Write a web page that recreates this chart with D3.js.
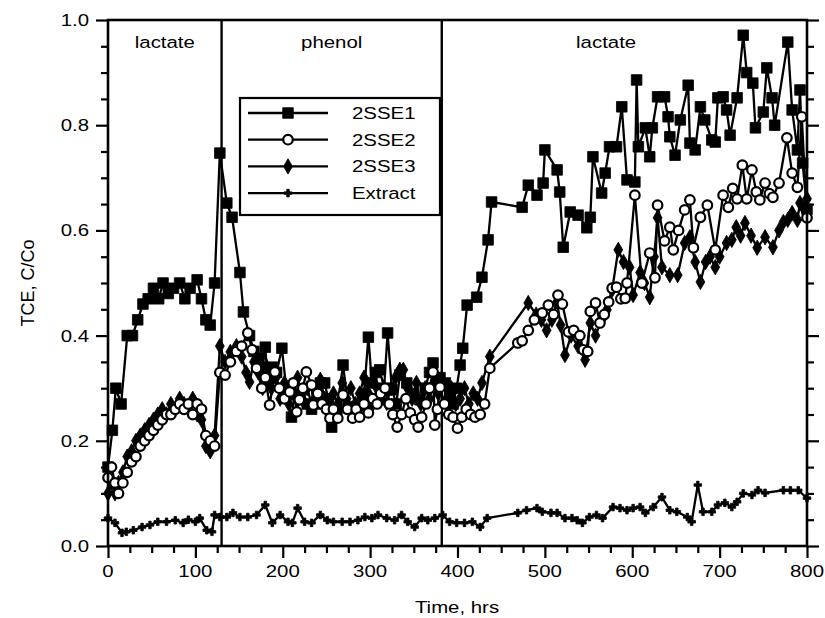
<!DOCTYPE html>
<html>
<head>
<meta charset="utf-8">
<script src="https://cdn.jsdelivr.net/npm/d3@7"></script>
<style>
  html, body { margin: 0; padding: 0; background: #fff; }
  svg { display: block; }
  text { font-family: "Liberation Sans", Arial, Helvetica, sans-serif; fill: #000; }
</style>
</head>
<body>
<svg id="chart" width="825" height="618"></svg>
<script>
// TCE breakthrough (C/Co) over time for three columns and the extract
const sse1 = [[0,0.15],[5,0.22],[9,0.30],[15,0.27],[22,0.40],[28,0.40],[34,0.43],[40,0.46],[46,0.47],[52,0.49],[58,0.47],[63,0.50],[69,0.48],[75,0.49],[82,0.50],[88,0.47],[94,0.49],[102,0.506],[107,0.47],[112,0.43],[117,0.42],[122,0.50],[128,0.747],[136,0.652],[142,0.625],[151,0.52],[155,0.445],[162,0.40],[167,0.37],[172,0.357],[177,0.34],[180,0.378],[183,0.31],[188,0.34],[193,0.33],[199,0.376],[204,0.30],[210,0.245],[214,0.29],[220,0.28],[228,0.27],[233,0.26],[238,0.27],[243,0.31],[248,0.31],[252,0.28],[256,0.226],[262,0.26],[269,0.344],[275,0.265],[282,0.26],[288,0.268],[293,0.29],[298,0.397],[302,0.31],[306,0.33],[311,0.335],[316,0.30],[320,0.405],[325,0.297],[330,0.27],[334,0.325],[342,0.31],[349,0.29],[357,0.278],[363,0.30],[368,0.33],[372,0.348],[376,0.32],[380,0.32],[386,0.31],[391,0.29],[395,0.27],[399,0.30],[403,0.344],[406,0.376],[411,0.458],[422,0.473],[428,0.511],[435,0.582],[439,0.654],[474,0.644],[481,0.686],[491,0.667],[498,0.69],[500,0.753],[514,0.715],[517,0.673],[521,0.568],[529,0.635],[538,0.629],[548,0.605],[552,0.625],[555,0.74],[565,0.671],[569,0.709],[574,0.759],[582,0.759],[588,0.835],[594,0.696],[603,0.692],[605,0.886],[607,0.759],[615,0.795],[620,0.74],[623,0.795],[629,0.854],[637,0.854],[641,0.816],[643,0.778],[649,0.743],[655,0.81],[664,0.876],[666,0.766],[672,0.753],[678,0.835],[683,0.81],[691,0.772],[695,0.768],[698,0.852],[704,0.854],[708,0.829],[712,0.781],[720,0.852],[727,0.971],[731,0.90],[738,0.88],[741,0.795],[750,0.825],[754,0.909],[760,0.852],[763,0.80],[778,0.958],[783,0.829],[789,0.753],[792,0.867],[795,0.728],[800,0.64]];

const sse2 = [[0,0.13],[4,0.15],[8,0.12],[12,0.10],[17,0.12],[22,0.14],[27,0.16],[32,0.17],[37,0.19],[42,0.20],[47,0.21],[52,0.22],[57,0.23],[62,0.24],[67,0.25],[72,0.25],[77,0.26],[82,0.27],[87,0.26],[92,0.27],[97,0.25],[102,0.27],[107,0.26],[112,0.21],[117,0.20],[122,0.19],[128,0.33],[134,0.325],[140,0.35],[147,0.37],[153,0.38],[160,0.405],[165,0.373],[170,0.338],[176,0.30],[180,0.32],[185,0.268],[191,0.331],[196,0.30],[202,0.28],[208,0.293],[212,0.31],[216,0.255],[219,0.278],[223,0.30],[227,0.331],[233,0.306],[235,0.268],[240,0.29],[245,0.27],[250,0.26],[254,0.243],[258,0.26],[263,0.243],[269,0.287],[274,0.26],[280,0.243],[284,0.26],[288,0.245],[293,0.27],[298,0.253],[303,0.28],[308,0.27],[312,0.29],[317,0.30],[322,0.27],[326,0.25],[331,0.226],[336,0.25],[341,0.28],[346,0.253],[351,0.24],[355,0.226],[359,0.245],[364,0.27],[368,0.30],[372,0.331],[374,0.23],[377,0.26],[380,0.302],[385,0.27],[390,0.25],[395,0.245],[400,0.224],[405,0.245],[410,0.26],[415,0.25],[420,0.245],[426,0.25],[431,0.27],[437,0.338],[469,0.386],[474,0.39],[481,0.41],[488,0.43],[497,0.443],[504,0.458],[510,0.44],[515,0.477],[520,0.46],[527,0.407],[533,0.41],[540,0.40],[544,0.373],[549,0.37],[552,0.446],[558,0.462],[563,0.424],[568,0.44],[573,0.464],[577,0.49],[582,0.492],[587,0.47],[592,0.471],[594,0.50],[603,0.667],[611,0.50],[620,0.557],[626,0.51],[629,0.648],[637,0.58],[643,0.606],[647,0.563],[653,0.60],[660,0.639],[666,0.658],[670,0.567],[678,0.625],[686,0.648],[695,0.563],[704,0.667],[710,0.644],[715,0.68],[720,0.66],[726,0.724],[731,0.66],[737,0.715],[742,0.673],[746,0.658],[752,0.69],[757,0.67],[761,0.663],[768,0.69],[777,0.776],[783,0.709],[789,0.682],[794,0.816],[800,0.624]];

const sse3 = [[0,0.10],[4,0.12],[8,0.10],[12,0.12],[17,0.14],[22,0.17],[27,0.18],[32,0.20],[37,0.21],[42,0.22],[47,0.23],[52,0.24],[57,0.25],[62,0.26],[67,0.25],[72,0.27],[77,0.26],[82,0.28],[87,0.27],[92,0.26],[97,0.28],[102,0.25],[107,0.24],[112,0.19],[117,0.18],[122,0.21],[128,0.38],[134,0.35],[140,0.369],[147,0.38],[153,0.36],[158,0.33],[162,0.312],[167,0.35],[172,0.33],[177,0.30],[182,0.34],[187,0.30],[192,0.32],[197,0.28],[202,0.31],[207,0.27],[212,0.29],[217,0.32],[222,0.28],[228,0.30],[233,0.27],[238,0.29],[243,0.316],[248,0.28],[253,0.26],[258,0.29],[263,0.27],[268,0.31],[273,0.28],[278,0.30],[283,0.27],[288,0.29],[293,0.32],[298,0.29],[303,0.27],[308,0.30],[313,0.28],[319,0.272],[324,0.30],[329,0.32],[334,0.335],[338,0.335],[343,0.30],[348,0.28],[353,0.31],[358,0.27],[363,0.30],[368,0.28],[373,0.31],[378,0.29],[383,0.31],[388,0.28],[393,0.30],[398,0.27],[403,0.28],[408,0.30],[413,0.27],[418,0.29],[423,0.28],[428,0.31],[437,0.36],[481,0.462],[490,0.44],[496,0.43],[502,0.41],[508,0.43],[514,0.464],[518,0.42],[523,0.363],[530,0.40],[538,0.38],[546,0.354],[552,0.424],[558,0.40],[565,0.43],[571,0.449],[577,0.487],[584,0.563],[590,0.54],[597,0.53],[601,0.477],[609,0.52],[614,0.50],[620,0.473],[625,0.55],[629,0.624],[634,0.53],[643,0.515],[652,0.515],[660,0.576],[666,0.587],[672,0.54],[678,0.502],[684,0.54],[689,0.55],[695,0.53],[700,0.55],[708,0.576],[714,0.582],[719,0.606],[724,0.59],[729,0.614],[736,0.59],[743,0.567],[752,0.587],[761,0.568],[768,0.60],[773,0.616],[778,0.62],[783,0.633],[789,0.62],[792,0.652],[797,0.64],[800,0.66]];

const extract = [[0,0.053],[8,0.044],[16,0.025],[21,0.027],[29,0.030],[39,0.036],[48,0.040],[57,0.046],[67,0.046],[77,0.049],[86,0.044],[92,0.050],[100,0.046],[105,0.053],[113,0.030],[119,0.027],[122,0.059],[128,0.055],[136,0.055],[143,0.063],[151,0.055],[160,0.055],[170,0.059],[180,0.078],[188,0.044],[197,0.059],[206,0.046],[211,0.044],[217,0.072],[225,0.046],[233,0.044],[243,0.059],[251,0.049],[258,0.046],[268,0.046],[277,0.046],[286,0.049],[294,0.055],[302,0.053],[309,0.059],[319,0.053],[328,0.049],[336,0.059],[343,0.046],[351,0.036],[359,0.053],[366,0.049],[374,0.053],[383,0.059],[391,0.046],[399,0.044],[408,0.044],[417,0.046],[426,0.036],[434,0.053],[469,0.063],[479,0.068],[491,0.072],[497,0.065],[507,0.063],[514,0.063],[523,0.053],[531,0.053],[537,0.049],[543,0.044],[551,0.055],[559,0.059],[566,0.053],[578,0.074],[586,0.072],[594,0.068],[601,0.072],[609,0.074],[615,0.063],[624,0.074],[634,0.093],[643,0.068],[651,0.065],[663,0.055],[668,0.046],[675,0.116],[681,0.065],[691,0.065],[698,0.078],[706,0.082],[714,0.074],[720,0.084],[727,0.100],[737,0.097],[744,0.106],[752,0.101],[773,0.106],[781,0.106],[790,0.106],[800,0.091]];

// Feed phases: boundaries (hrs) and their labels
const phaseBounds = [130, 382];
const phaseNames = ["lactate", "phenol", "lactate"];
const phaseLabelPos = [0.5, 0.5, 0.45];   // label position within each phase span

const xMajorTicks = [0, 100, 200, 300, 400, 500, 600, 700, 800];
const yMajorTicks = [0.0, 0.2, 0.4, 0.6, 0.8, 1.0];
const seriesNames = ["2SSE1", "2SSE2", "2SSE3", "Extract"];

const svg = d3.select("#chart");
const W = 825, H = 618;
const m = { left: 108, right: 18, top: 20, bottom: 72 };
const x = d3.scaleLinear().domain([0, 800]).range([m.left, W - m.right]);
const y = d3.scaleLinear().domain([0, 1]).range([H - m.bottom, m.top]);

const FS = 17, SX = 1.2;   // label font size, horizontal stretch of the lettering
function label(g, tx, ty, str, anchor) {
  return g.append("text")
    .attr("transform", `translate(${tx},${ty}) scale(${SX},1)`)
    .attr("text-anchor", anchor || "middle")
    .style("font-size", FS + "px")
    .text(str);
}

// axes (ticks point outward)
const xMinor = d3.range(0, 801, 25).filter(v => v % 100 !== 0);
const yMinor = d3.range(0, 1.0001, 0.05).map(v => +v.toFixed(2)).filter(v => Math.round(v * 100) % 20 !== 0);

function styleAxis(g) {
  g.select(".domain").remove();
  g.selectAll(".tick line").attr("stroke", "#000").attr("stroke-width", 2.2);
  g.selectAll(".tick text").remove();
}

const bottom = H - m.bottom;
svg.append("g").attr("transform", `translate(0,${bottom})`)
  .call(d3.axisBottom(x).tickValues(xMajorTicks).tickSize(12)).call(styleAxis);
svg.append("g").attr("transform", `translate(0,${bottom})`)
  .call(d3.axisBottom(x).tickValues(xMinor).tickSize(7)).call(styleAxis);
svg.append("g").attr("transform", `translate(${m.left},0)`)
  .call(d3.axisLeft(y).tickValues(yMajorTicks).tickSize(12)).call(styleAxis);
svg.append("g").attr("transform", `translate(${m.left},0)`)
  .call(d3.axisLeft(y).tickValues(yMinor).tickSize(7)).call(styleAxis);
svg.append("g").attr("transform", `translate(${W - m.right},0)`)
  .call(d3.axisRight(y).tickValues(yMajorTicks).tickSize(12)).call(styleAxis);
svg.append("g").attr("transform", `translate(${W - m.right},0)`)
  .call(d3.axisRight(y).tickValues(yMinor).tickSize(7)).call(styleAxis);

// tick labels
const fmtY = d3.format(".1f");
xMajorTicks.forEach(v => label(svg, x(v), bottom + 31, String(v), "middle"));
yMajorTicks.forEach(v => label(svg, m.left - 19, y(v) + 6, fmtY(v), "end"));

// axis titles
label(svg, 457, 613, "Time, hrs", "middle");
svg.append("text")
  .attr("transform", `translate(34,${(m.top + bottom) / 2}) rotate(-90)`)
  .attr("text-anchor", "middle")
  .style("font-size", "18px")
  .text("TCE, C/Co");

// phase boundaries and labels
svg.selectAll("line.phase").data(phaseBounds).join("line")
  .attr("class", "phase")
  .attr("x1", d => x(d)).attr("x2", d => x(d))
  .attr("y1", y(1)).attr("y2", y(0))
  .attr("stroke", "#000").attr("stroke-width", 2.4);
const edges = [0, ...phaseBounds, 800];
phaseNames.forEach((name, i) => {
  const cx = x(edges[i]) + phaseLabelPos[i] * (x(edges[i + 1]) - x(edges[i]));
  label(svg, cx, y(1) + 28, name, "middle");
});

// series
const line = d3.line().x(d => x(d[0])).y(d => y(d[1]));
const marks = {
  "2SSE1": { data: sse1, sym: d3.symbolSquare, size: 112, fill: "#000" },
  "2SSE2": { data: sse2, sym: d3.symbolCircle, size: 72, fill: "#fff" },
  "2SSE3": { data: sse3, sym: d3.symbolDiamond, size: 68, fill: "#000" },
  "Extract": { data: extract, sym: d3.symbolCross, size: 32, fill: "#000" }
};
const drawOrder = ["Extract", "2SSE1", "2SSE3", "2SSE2"];
drawOrder.forEach(name => {
  const s = marks[name];
  const g = svg.append("g");
  g.append("path").datum(s.data).attr("d", line)
    .attr("fill", "none").attr("stroke", "#000").attr("stroke-width", 2.3)
    .attr("stroke-linejoin", "round");
  g.selectAll("path.pt").data(s.data).join("path")
    .attr("class", "pt")
    .attr("transform", d => `translate(${x(d[0])},${y(d[1])})`)
    .attr("d", d3.symbol().type(s.sym).size(s.size))
    .attr("fill", s.fill).attr("stroke", "#000")
    .attr("stroke-width", name === "2SSE2" ? 2.2 : 0.8);
});

// plot frame
svg.append("rect")
  .attr("x", m.left).attr("y", m.top)
  .attr("width", W - m.right - m.left).attr("height", bottom - m.top)
  .attr("fill", "none").attr("stroke", "#000").attr("stroke-width", 2.6);

// legend
const lg = svg.append("g").attr("transform", "translate(240,98)");
lg.append("rect").attr("width", 200).attr("height", 117)
  .attr("fill", "#fff").attr("stroke", "#000").attr("stroke-width", 2.2);
seriesNames.forEach((name, i) => {
  const ry = 15 + i * 26.7;
  const s = marks[name];
  lg.append("line").attr("x1", 8).attr("x2", 88).attr("y1", ry).attr("y2", ry)
    .attr("stroke", "#000").attr("stroke-width", 2.3);
  lg.append("path").attr("transform", `translate(48,${ry})`)
    .attr("d", d3.symbol().type(s.sym).size(s.size))
    .attr("fill", s.fill).attr("stroke", "#000")
    .attr("stroke-width", name === "2SSE2" ? 2.2 : 0.8);
  label(lg, 112, ry + 6, name, "start");
});
</script>
</body>
</html>
